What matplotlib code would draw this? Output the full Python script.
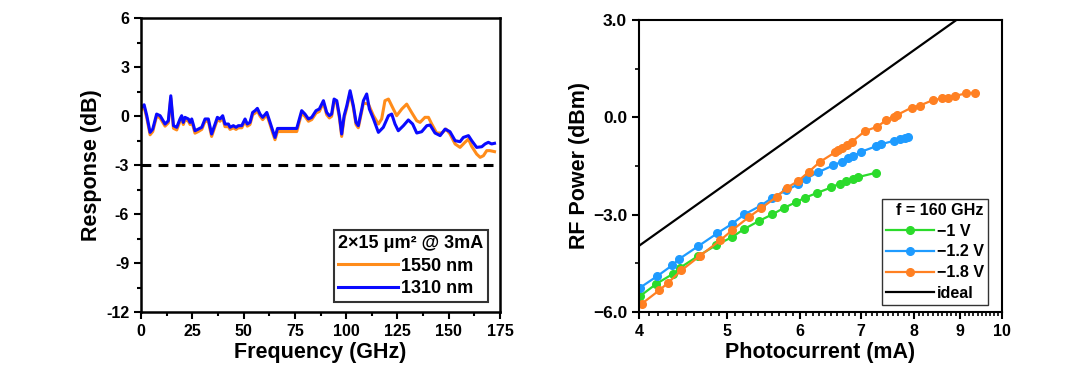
import matplotlib
matplotlib.use("Agg")
import matplotlib.pyplot as plt
import numpy as np
from matplotlib.ticker import FixedLocator, MultipleLocator, NullFormatter

plt.rcParams["font.family"] = ["Liberation Sans", "DejaVu Sans"]
plt.rcParams["font.weight"] = "bold"
plt.rcParams["axes.labelweight"] = "bold"

# ---- left panel: frequency response ----
f_1310 = [0.3, 1.5, 2.8, 4.4, 5.7, 7.6, 9.3, 11.7, 13.3, 14.5, 15.8, 17.4, 19.0, 19.8,
          20.6, 21.4, 23.1, 23.9, 24.7, 26.3, 27.9, 29.6, 31.2, 32.8, 34.4, 36.1, 37.2,
          38.5, 39.8, 40.9, 42.6, 43.4, 45.0, 46.3, 47.4, 49.1, 50.7, 51.8, 53.1, 54.4,
          55.6, 56.7, 58.0, 59.3, 61.3, 62.9, 64.2, 65.3, 66.5, 75.9, 78.3, 79.9, 81.6,
          83.2, 85.3, 86.9, 88.9, 90.5, 91.8, 92.9, 94.1, 95.4, 96.7, 97.8, 99.0, 100.3,
          101.9, 103.5, 104.8, 105.9, 107.6, 108.4, 110.0, 111.3, 113.3, 115.7, 118.1,
          120.6, 122.2, 123.8, 125.4, 127.9, 130.3, 132.4, 134.4, 136.8, 139.3, 140.9,
          143.3, 145.8, 148.2, 150.6, 153.1, 155.5, 157.1, 159.6, 161.2, 163.6, 166.1,
          167.7, 169.3, 170.9, 172.3]
r_1310 = [0.53, 0.69, 0.02, -1.0, -0.8, 0.12, 0.02, -0.49, -0.29, 1.24, -0.59, -0.69,
          -0.18, 0.02, -0.39, -0.08, -0.18, -0.39, -0.18, -0.90, -0.80, -0.69, -0.18,
          -0.18, -1.10, -0.49, -0.08, -0.18, 0.02, -0.49, -0.49, -0.69, -0.59, -0.69,
          -0.59, -0.59, -0.18, -0.49, -0.39, 0.22, 0.33, 0.47, 0.12, -0.08, 0.22, -0.39,
          -0.90, -1.31, -0.76, -0.76, 0.33, 0.12, -0.18, -0.08, 0.33, 0.43, 0.94, 0.22,
          0.02, 0.12, 1.04, 0.94, 0.02, -1.10, 0.02, 0.63, 1.55, 0.63, -0.39, -0.59, 0.43,
          0.94, 1.35, 0.43, -0.18, -1.0, -0.69, 0.02, 0.12, -0.49, -0.90, -0.59, -0.24,
          -0.49, -1.04, -0.96, -0.59, -0.55, -1.04, -1.20, -0.80, -0.96, -1.51, -1.57,
          -1.31, -1.20, -1.51, -1.92, -1.88, -1.71, -1.61, -1.71, -1.67]

f_1550 = [0.3, 1.5, 2.8, 4.4, 5.7, 7.6, 9.3, 11.7, 13.3, 14.5, 15.8, 17.4, 19.0, 19.8,
          20.6, 21.4, 23.1, 23.9, 24.7, 26.3, 27.9, 29.6, 31.2, 32.8, 34.4, 36.1, 37.2,
          38.5, 39.8, 40.9, 42.6, 43.4, 45.0, 46.3, 47.4, 49.1, 50.7, 51.8, 53.1, 54.4,
          55.6, 56.7, 58.0, 59.3, 61.3, 62.9, 64.2, 65.3, 66.5, 75.9, 78.3, 79.9, 81.6,
          83.2, 85.3, 86.9, 88.9, 90.5, 91.8, 92.9, 94.1, 95.4, 96.7, 97.8, 99.0, 100.3,
          101.9, 103.5, 104.8, 105.9, 107.6, 108.4, 110.8, 113.3, 115.7, 117.3, 118.9,
          120.6, 122.2, 124.6, 127.1, 129.5, 131.9, 134.4, 136.0, 138.4, 140.1, 141.7,
          144.1, 146.6, 148.7, 150.6, 153.1, 155.5, 157.9, 159.6, 161.2, 163.6, 165.3,
          166.9, 168.5, 170.1, 172.3]
r_1550 = [0.40, 0.55, -0.12, -1.15, -0.95, 0.0, -0.12, -0.62, -0.42, 1.10, -0.75, -0.85,
          -0.32, -0.12, -0.52, -0.22, -0.32, -0.52, -0.32, -1.05, -0.95, -0.82, -0.32,
          -0.32, -1.25, -0.62, -0.22, -0.32, -0.12, -0.65, -0.65, -0.82, -0.72, -0.82,
          -0.72, -0.72, -0.32, -0.62, -0.52, 0.08, 0.18, 0.32, 0.0, -0.22, 0.08, -0.52,
          -1.05, -1.45, -0.95, -0.95, 0.18, -0.02, -0.32, -0.22, 0.18, 0.28, 0.80, 0.08,
          -0.12, -0.02, 0.90, 0.80, -0.12, -1.25, -0.12, 0.50, 1.40, 0.50, -0.52, -0.72,
          0.30, 0.80, 0.73, 0.02, -0.49, -0.18, 0.94, 1.04, 0.63, 0.02, 0.43, 0.73, 0.22,
          -0.29, -0.39, -0.08, -0.08, -0.49, -1.04, -1.04, -0.80, -1.10, -1.71, -1.92,
          -1.61, -1.41, -1.86, -2.33, -2.53, -2.43, -2.12, -2.12, -2.18]

# ---- right panel: RF power vs photocurrent (f = 160 GHz) ----
i_1v = [4.01, 4.18, 4.36, 4.44, 4.64, 4.86, 5.06, 5.21, 5.41, 5.60, 5.77, 5.94, 6.08,
        6.27, 6.50, 6.64, 6.75, 6.86, 6.96, 7.27]
p_1v = [-5.51, -5.13, -4.82, -4.63, -4.28, -3.94, -3.69, -3.45, -3.20, -2.99, -2.79,
        -2.62, -2.48, -2.33, -2.16, -2.04, -1.96, -1.90, -1.84, -1.71]

i_12v = [4.01, 4.19, 4.35, 4.43, 4.64, 4.87, 5.06, 5.22, 5.44, 5.60, 5.80, 5.98, 6.10,
         6.28, 6.53, 6.67, 6.78, 6.87, 7.01, 7.28, 7.37, 7.62, 7.72, 7.82, 7.89]
p_12v = [-5.25, -4.89, -4.56, -4.36, -3.98, -3.58, -3.28, -2.99, -2.72, -2.48, -2.25,
         -2.06, -1.89, -1.70, -1.48, -1.37, -1.25, -1.19, -1.06, -0.89, -0.83, -0.72,
         -0.68, -0.63, -0.60]

i_18v = [4.03, 4.21, 4.30, 4.45, 4.66, 4.91, 5.06, 5.28, 5.44, 5.66, 5.81, 5.98, 6.14,
         6.31, 6.56, 6.61, 6.67, 6.76, 6.84, 7.08, 7.30, 7.46, 7.61, 7.67, 7.96, 8.12,
         8.40, 8.60, 8.73, 8.88, 9.14, 9.34]
p_18v = [-5.74, -5.33, -5.11, -4.72, -4.28, -3.79, -3.48, -3.07, -2.81, -2.45, -2.17,
         -1.96, -1.68, -1.38, -1.08, -1.01, -0.94, -0.84, -0.76, -0.42, -0.29, -0.09,
         0.02, 0.07, 0.30, 0.36, 0.53, 0.58, 0.61, 0.66, 0.74, 0.76]

i_ideal = [4.0, 10.0]
p_ideal = [-3.96, 4.0]

resp_ticks = [-12, -9, -6, -3, 0, 3, 6]
resp_labels = ["-12", "-9", "-6", "-3", "0", "3", "6"]
pow_ticks = [-6, -3, 0, 3]
pow_labels = ["−6.0", "−3.0", "0.0", "3.0"]

fig = plt.figure(figsize=(10.8, 3.84), dpi=100)
ax1 = fig.add_axes([0.1306, 0.1875, 0.3324, 0.7655])
ax2 = fig.add_axes([0.5917, 0.1875, 0.3361, 0.7605])

tick_kw = dict(direction="out", labelsize=11.5, width=1.5, length=5)

# left
ax1.plot(f_1550, r_1550, color="#FF8C1A", lw=2.2, label="1550 nm")
ax1.plot(f_1310, r_1310, color="#0A0AFF", lw=2.2, label="1310 nm")
ax1.axhline(-3, color="black", lw=2.2, dashes=(3.2, 2.4))
ax1.set_xlim(0, 175)
ax1.set_ylim(-12, 6)
ax1.set_xticks(np.arange(0, 176, 25))
ax1.set_yticks(resp_ticks)
ax1.set_yticklabels(resp_labels)
ax1.xaxis.set_minor_locator(MultipleLocator(12.5))
ax1.yaxis.set_minor_locator(MultipleLocator(1.5))
ax1.tick_params(which="major", **tick_kw)
ax1.tick_params(which="minor", direction="out", width=1.5, length=3)
ax1.set_xlabel("Frequency (GHz)", fontsize=15.5, labelpad=2)
ax1.set_ylabel("Response (dB)", fontsize=15.5, labelpad=3)
for s in ax1.spines.values():
    s.set_linewidth(1.8)
leg1 = ax1.legend(loc="lower right", bbox_to_anchor=(0.967, 0.034),
                  title="2×15 μm² @ 3mA", alignment="left",
                  title_fontproperties={"weight": "bold", "size": 13},
                  prop={"weight": "bold", "size": 13}, frameon=True, fancybox=False,
                  edgecolor="black", handlelength=3.3, handletextpad=0.15,
                  labelspacing=0.33, borderpad=0.25, borderaxespad=0.0)
leg1.get_frame().set_linewidth(1.5)
leg1.get_title().set_position((0, 0))

# right
ax2.plot(i_ideal, p_ideal, color="black", lw=1.6, label="ideal", zorder=1)
ax2.plot(i_1v, p_1v, "-o", color="#2BDB2B", lw=1.6, ms=5.5, label="−1 V")
ax2.plot(i_12v, p_12v, "-o", color="#1E9BFF", lw=1.6, ms=5.5, label="−1.2 V")
ax2.plot(i_18v, p_18v, "-o", color="#FF8022", lw=1.6, ms=5.5, label="−1.8 V")
ax2.set_xscale("log")
ax2.set_xlim(4, 10)
ax2.set_ylim(-6, 3)
ax2.xaxis.set_major_locator(FixedLocator([4, 5, 6, 7, 8, 9, 10]))
ax2.xaxis.set_major_formatter(plt.FuncFormatter(lambda v, p: f"{v:g}"))
ax2.xaxis.set_minor_locator(FixedLocator(np.arange(4, 10.001, 0.1)))
ax2.xaxis.set_minor_formatter(NullFormatter())
ax2.set_yticks(pow_ticks)
ax2.set_yticklabels(pow_labels)
ax2.yaxis.set_minor_locator(MultipleLocator(1.5))
ax2.tick_params(which="major", **tick_kw)
ax2.tick_params(axis="y", which="major", labelsize=12.5)
ax2.tick_params(which="minor", direction="out", width=1.2, length=3)
ax2.set_xlabel("Photocurrent (mA)", fontsize=15.5, labelpad=2)
ax2.set_ylabel("RF Power (dBm)", fontsize=15.5, labelpad=2)
for s in ax2.spines.values():
    s.set_linewidth(1.5)
h, l = ax2.get_legend_handles_labels()
order = [1, 2, 3, 0]
leg2 = ax2.legend([h[k] for k in order], [l[k] for k in order], loc="lower right",
                  bbox_to_anchor=(0.961, 0.024), title="f = 160 GHz", alignment="right",
                  title_fontproperties={"weight": "bold", "size": 11.6},
                  prop={"weight": "bold", "size": 11.6}, frameon=True, fancybox=False,
                  edgecolor="black", handlelength=3.0, handletextpad=0.15,
                  labelspacing=0.36, borderpad=0.25, borderaxespad=0.0)
leg2.get_frame().set_linewidth(1.0)

fig.savefig("out.png", dpi=100)
